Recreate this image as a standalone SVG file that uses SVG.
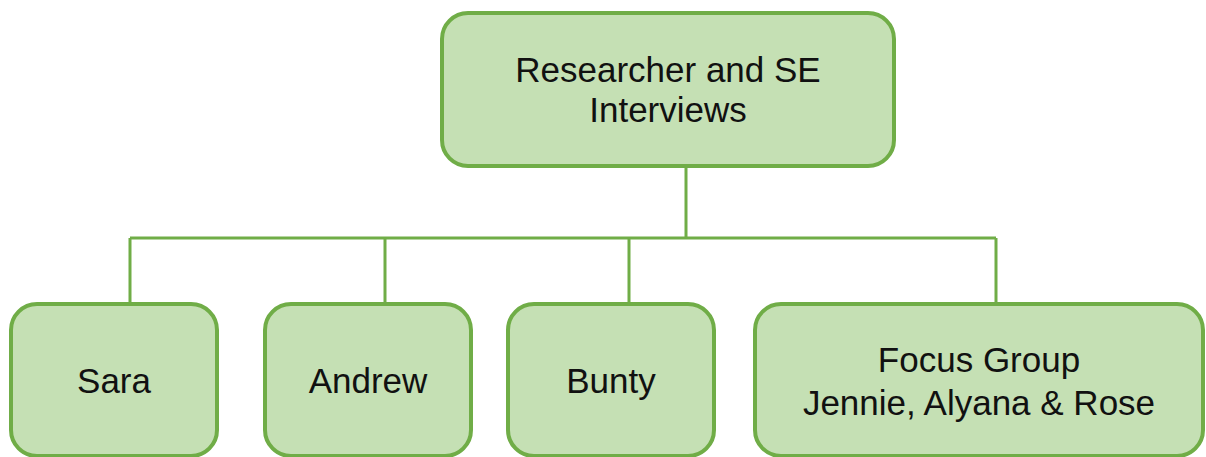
<svg xmlns="http://www.w3.org/2000/svg" width="1206" height="457" viewBox="0 0 1206 457">
<style>
.box{fill:#C5E0B4;stroke:#70AD47;stroke-width:4}
.lbl{font-family:"Liberation Sans",Arial,sans-serif;font-size:35px;fill:#111;text-anchor:middle}
.con{stroke:#70AD47;stroke-width:3;fill:none}
</style>
<rect width="1206" height="457" fill="#fff"/>
<g id="connectors">
<path class="con" d="M686 167V238M130 238H996M130 238V303M385 238V303M629 238V303M996 238V303"/>
</g>
<g id="root">
<rect class="box" x="442" y="13" width="452" height="153" rx="26"/>
<text class="lbl" x="668" y="82">Researcher and SE</text>
<text class="lbl" x="668" y="122">Interviews</text>
</g>
<g id="sara">
<rect class="box" x="11" y="304" width="206" height="152" rx="26"/>
<text class="lbl" x="114" y="393">Sara</text>
</g>
<g id="andrew">
<rect class="box" x="265" y="304" width="206" height="152" rx="26"/>
<text class="lbl" x="368" y="393">Andrew</text>
</g>
<g id="bunty">
<rect class="box" x="508" y="304" width="206" height="152" rx="26"/>
<text class="lbl" x="611" y="393">Bunty</text>
</g>
<g id="focus">
<rect class="box" x="755" y="304" width="448" height="152" rx="26"/>
<text class="lbl" x="979" y="372">Focus Group</text>
<text class="lbl" x="979" y="415">Jennie, Alyana &amp; Rose</text>
</g>
</svg>
